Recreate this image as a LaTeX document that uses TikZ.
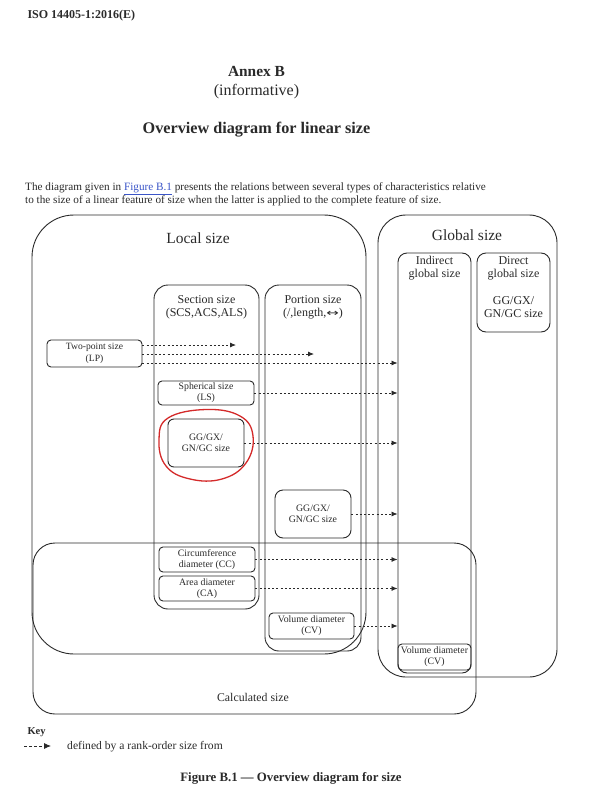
\documentclass[tikz,border=0pt]{standalone}
\usepackage{fontspec}
\setmainfont{Liberation Serif}
\newfontfamily\symfnt{DejaVu Sans}
\usetikzlibrary{arrows.meta}
\definecolor{ink}{HTML}{2A2A2A}
\definecolor{linkblue}{HTML}{3B55C8}
\definecolor{redmark}{HTML}{D42A2A}
\tikzset{
  frame/.style={draw=ink, line width=0.9pt, rounded corners=#1},
  frame/.default=6pt,
  boxnode/.style={draw=ink, line width=0.9pt, rounded corners=4pt, inner sep=0pt, align=center,
    font=\fontsize{9.8}{11}\selectfont, text=ink},
  big/.style={font=\fontsize{15.5}{18}\selectfont, text=ink},
  mid/.style={font=\fontsize{12}{13}\selectfont, text=ink, align=center},
  dep/.style={draw=ink, line width=0.8pt, dash pattern=on 2pt off 2.2pt, -{Latex[length=6pt,width=5pt]}},
}
\begin{document}
\begin{tikzpicture}[x=1pt,y=-1pt]
\useasboundingbox (0,0) rectangle (599,800);
\fill[white] (0,0) rectangle (599,800);

% header
\node[anchor=base west, font=\fontsize{12}{14}\bfseries\selectfont, text=ink] (hdr) at (24,18.5) {ISO 14405-1:2016(E)};
\node[anchor=base, font=\fontsize{15.4}{18}\bfseries\selectfont, text=ink] (annex) at (256.5,77) {Annex B};
\node[anchor=base, font=\fontsize{16}{18}\selectfont, text=ink] (inform) at (256.5,95) {(informative)};
\node[anchor=base, font=\fontsize{16.2}{18}\bfseries\selectfont, text=ink] (title) at (256.5,133) {Overview diagram for linear size};
\node[anchor=base west, font=\fontsize{11.2}{12}\selectfont, text=ink, inner sep=0pt] (par1) at (25,190)
  {The diagram given in \textcolor{linkblue}{\underline{Figure B.1}} presents the relations between several types of characteristics relative};
\node[anchor=base west, font=\fontsize{11.2}{12}\selectfont, text=ink, inner sep=0pt] (par2) at (25,203.5)
  {to the size of a linear feature of size when the latter is applied to the complete feature of size.};

% containers
\node[frame=42pt, minimum width=334pt, minimum height=439pt] (local) at (199,434.5) {};
\node[frame=22pt, minimum width=443pt, minimum height=171pt] (calc) at (254.5,628.5) {};
\node[frame=28pt, minimum width=179pt, minimum height=462pt] (global) at (467.5,446) {};
\node[frame=9pt, minimum width=73pt, minimum height=420pt] (ind) at (434.5,463) {};
\node[frame=9pt, minimum width=73pt, minimum height=79pt] (dir) at (513.5,292.5) {};
\node[frame=14pt, minimum width=105pt, minimum height=324pt] (sect) at (206.5,447) {};
\node[frame=14pt, minimum width=96pt, minimum height=366pt] (port) at (313,468) {};

% container labels
\node[big, anchor=base] (locallbl) at (198,243) {Local size};
\node[big, anchor=base] (globallbl) at (467,240.5) {Global size};
\node[mid, anchor=base, font=\fontsize{11.8}{13}\selectfont] (calclbl) at (253,701.5) {Calculated size};
\node[mid] (indlbl) at (434.5,268.5) {Indirect\\global size};
\node[mid] (dirlbl) at (513.5,268.5) {Direct\\global size};
\node[mid] (dirgg) at (513.5,307.5) {GG/GX/\\GN/GC size};
\node[mid] (sectlbl) at (206.5,307.5) {Section size\\(SCS,ACS,ALS)};
\node[mid] (portlbl) at (313,307.5) {Portion size\\(/,length,{\symfnt\fontsize{10}{12}\selectfont\scalebox{1.5}[1]{↔}})};

% boxes
\node[boxnode, minimum width=95pt, minimum height=27pt, font=\fontsize{9.6}{11.5}\selectfont] (tp) at (94.5,353.5) {Two-point size\\(LP)};
\node[boxnode, minimum width=96pt, minimum height=24pt] (sph) at (206,393) {Spherical size\\(LS)};
\node[boxnode, rounded corners=6pt, minimum width=76pt, minimum height=48pt] (ggs) at (206,443) {GG/GX/\\GN/GC size};
\node[boxnode, rounded corners=8pt, minimum width=76pt, minimum height=48pt] (ggp) at (313,514) {GG/GX/\\GN/GC size};
\node[boxnode, minimum width=96pt, minimum height=25pt] (cc) at (207,559.5) {Circumference\\diameter (CC)};
\node[boxnode, minimum width=96pt, minimum height=25pt] (ca) at (207,588.5) {Area diameter\\(CA)};
\node[boxnode, minimum width=85pt, minimum height=26pt] (cvp) at (311.5,626) {Volume diameter\\(CV)};
\node[boxnode, minimum width=73pt, minimum height=26pt] (cvi) at (434.5,657) {Volume diameter\\(CV)};

% arrows
\coordinate (tpa) at (236,345);
\coordinate (tpb) at (314,354);
\coordinate (tpc) at (142,363);
\draw[dep] (tp.east |- tpa) -- (tpa);
\draw[dep] (tp.east |- tpb) -- (tpb);
\draw[dep] (tp.east |- tpc) -- (ind.west |- tpc);
\draw[dep] (sph.east) -- (ind.west |- sph.east);
\draw[dep] (ggs.east) -- (ind.west |- ggs.east);
\draw[dep] (ggp.east) -- (ind.west |- ggp.east);
\draw[dep] (cc.east) -- (ind.west |- cc.east);
\draw[dep] (ca.east) -- (ind.west |- ca.east);
\draw[dep] (cvp.east) -- (ind.west |- cvp.east);

% red hand-drawn mark
\draw[redmark, line width=1.3pt] plot[smooth cycle, tension=0.7] coordinates
  {(206,409.5) (240,416) (253,436) (246,463) (222,479) (190,479) (166,466) (159,440) (168,418)};

% key
\node[anchor=base west, font=\fontsize{10.5}{12}\bfseries\selectfont, text=ink] (keylbl) at (24,734) {Key};
\coordinate (keya) at (24,746);
\coordinate (keyb) at (51,746);
\draw[dep, dash pattern=on 2.5pt off 2.5pt, -{Latex[length=7pt,width=6pt]}] (keya) -- (keyb);
\node[anchor=base west, font=\fontsize{11.6}{12}\selectfont, text=ink, inner sep=0pt] (keytxt) at (67,749.5) {defined by a rank-order size from};

% caption
\node[anchor=base, font=\fontsize{12.8}{14}\bfseries\selectfont, text=ink] (cap) at (291,781) {Figure B.1 — Overview diagram for size};
\end{tikzpicture}
\end{document}
